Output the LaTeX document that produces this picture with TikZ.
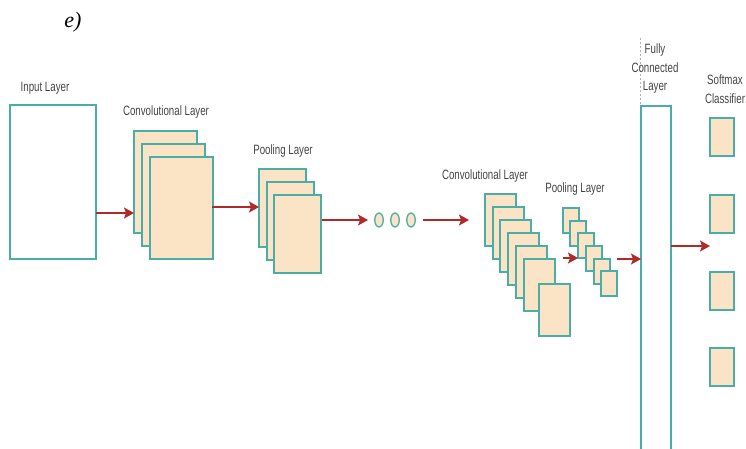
\documentclass[tikz,border=0pt]{standalone}
\usepackage{fontspec}
\setmainfont{Liberation Serif}
\newfontfamily\narrowsans[FakeStretch=0.72]{Liberation Sans}
\usetikzlibrary{arrows.meta,shapes.geometric}
\definecolor{tealb}{HTML}{4AADA8}
\definecolor{peach}{HTML}{FBE3C5}
\definecolor{arrred}{HTML}{B02A2A}
\definecolor{labgray}{HTML}{444444}
\begin{document}
\begin{tikzpicture}[x=1pt,y=-1pt,
  box/.style={draw=tealb, line width=1.4pt, fill=peach, inner sep=0pt, outer sep=0pt, anchor=north west},
  bigc/.style={box, minimum width=63pt, minimum height=102pt},
  bigp/.style={box, minimum width=47pt, minimum height=78pt},
  smc/.style={box, minimum width=31pt, minimum height=52pt},
  smp/.style={box, minimum width=16pt, minimum height=25pt},
  soft/.style={box, minimum width=24pt, minimum height=38pt},
  dot/.style={draw=tealb, line width=1.3pt, fill=peach, ellipse, inner sep=0pt, minimum width=8.5pt, minimum height=14pt},
  lab/.style={font=\narrowsans\fontsize{13.5}{18.5}\selectfont, text=labgray, inner sep=0pt, align=center},
  arr/.style={draw=arrred, line width=1.3pt, -{Stealth[length=10pt,width=11pt,inset=2pt]}}]
\useasboundingbox (0,0) rectangle (746,448);

\node[font=\itshape\fontsize{22}{26}\selectfont, inner sep=0pt] (title) at (73,22) {e)};

% input
\node[box, fill=white, minimum width=86pt, minimum height=154pt] (inp) at (10,105) {};
\node[lab] (linp) at (45,88) {Input Layer};

% conv 1
\node[bigc] (c1) at (134,131) {};
\node[bigc] (c2) at (142,144) {};
\node[bigc] (c3) at (150,157) {};
\node[lab] (lc1) at (166,112) {Convolutional Layer};

% pool 1
\node[bigp] (p1) at (259,169) {};
\node[bigp] (p2) at (267,182) {};
\node[bigp] (p3) at (274,195) {};
\node[lab] (lp1) at (283,151) {Pooling Layer};

% dots
\node[dot] (e1) at (379,220) {};
\node[dot] (e2) at (395,220) {};
\node[dot] (e3) at (411,220) {};

% conv 2
\node[smc] (k1) at (485,194) {};
\node[smc] (k2) at (493,207) {};
\node[smc] (k3) at (500,220) {};
\node[smc] (k4) at (508,233) {};
\node[smc] (k5) at (516,246) {};
\node[smc] (k6) at (524,259) {};
\node[smc] (k7) at (539,284) {};
\node[lab] (lc2) at (485,176) {Convolutional Layer};

% pool 2
\node[smp] (q1) at (563,208) {};
\node[smp] (q2) at (570,221) {};
\node[smp] (q3) at (578,233) {};
\node[smp] (q4) at (586,246) {};
\node[smp] (q5) at (594,259) {};
\node[smp] (q6) at (601,271) {};
\node[lab] (lp2) at (575,189) {Pooling Layer};

% fully connected
\draw[draw=gray!60, line width=0.6pt, dash pattern=on 2pt off 2pt] (640.5,38) -- (640.5,106);
\node[box, fill=white, minimum width=30pt, minimum height=350pt] (fc) at (641,106) {};
\node[lab] (lfc) at (655,69) {Fully\\Connected\\Layer};

% softmax
\node[soft] (s1) at (710,118) {};
\node[soft] (s2) at (710,195) {};
\node[soft] (s3) at (710,272) {};
\node[soft] (s4) at (710,348) {};
\node[lab] (lsm) at (725,89) {Softmax\\Classifier};

% connectors
\coordinate (a1) at (96,213);
\coordinate (a2) at (212,207);
\coordinate (a3) at (322,220);
\coordinate (a3e) at (368,220);
\coordinate (a4) at (423,220);
\coordinate (a4e) at (469,220);
\coordinate (a5) at (563,258);
\coordinate (a6) at (617,259);
\coordinate (a7e) at (710,246);

\draw[arr] (a1) -- (c1.west |- a1);
\draw[arr] (a2) -- (p1.west |- a2);
\draw[arr] (a3) -- (a3e);
\draw[arr] (a4) -- (a4e);
\draw[arr] (a5) -- (q3.south west);
\draw[arr] (a6) -- (fc.west |- a6);
\draw[arr] (fc.east |- a7e) -- (a7e);
\end{tikzpicture}
\end{document}
